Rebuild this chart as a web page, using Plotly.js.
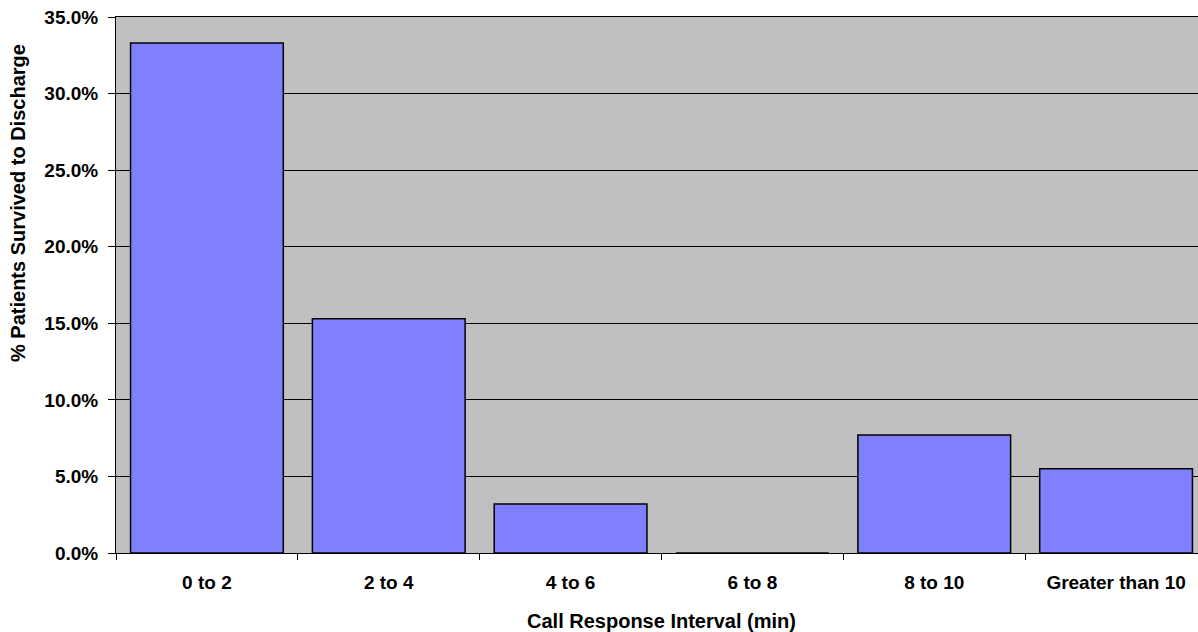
<!DOCTYPE html>
<html>
<head>
<meta charset="utf-8">
<script src="https://cdn.plot.ly/plotly-3.0.1.min.js"></script>
<style>
  html, body { margin: 0; padding: 0; background: #ffffff; overflow: hidden; }
  #chart { width: 1207px; height: 632px; }
</style>
</head>
<body>
<div id="chart"></div>
<script>
// Survival to discharge by call response interval
const categories = ["0 to 2", "2 to 4", "4 to 6", "6 to 8", "8 to 10", "Greater than 10"];
const survivedPct = [33.3, 15.3, 3.2, 0, 7.7, 5.5];
const yTickValues = [0, 5, 10, 15, 20, 25, 30, 35];

const font = "Liberation Sans, Arial, sans-serif";

const trace = {
  type: "bar",
  x: categories,
  y: survivedPct,
  marker: { color: "#8080ff", line: { color: "#000000", width: 1.5 } },
  hoverinfo: "skip"
};

const layout = {
  width: 1207,
  height: 632,
  margin: { l: 116, r: 0, t: 17, b: 79 },
  paper_bgcolor: "#ffffff",
  plot_bgcolor: "#c0c0c0",
  bargap: 0.16,
  showlegend: false,
  hovermode: false,
  font: { family: font, size: 19, color: "#000000" },
  xaxis: {
    type: "category",
    showline: true,
    linecolor: "#000000",
    linewidth: 1,
    mirror: true,
    ticks: "outside",
    tickson: "boundaries",
    ticklen: 6,
    tickcolor: "#000000",
    showgrid: false,
    ticklabelstandoff: 12,
    tickfont: { family: font, size: 19, color: "#000000", weight: "bold" },
    title: {
      text: "<b>Call Response Interval (min)</b>",
      font: { family: font, size: 20, color: "#000000" },
      standoff: 22
    }
  },
  yaxis: {
    range: [0, 35],
    tickvals: yTickValues,
    ticktext: yTickValues.map(v => v.toFixed(1) + "%"),
    showline: true,
    linecolor: "#000000",
    linewidth: 1,
    mirror: true,
    ticks: "outside",
    ticklen: 7,
    tickcolor: "#000000",
    showgrid: true,
    gridcolor: "#000000",
    gridwidth: 1,
    zeroline: false,
    ticklabelstandoff: 6,
    tickfont: { family: font, size: 19, color: "#000000", weight: "bold" }
  },
  annotations: [{
    text: "<b>% Patients Survived to Discharge</b>",
    textangle: -90,
    xref: "paper", yref: "paper",
    x: -116 / 1091 + 18 / 1091, xanchor: "center",
    y: (632 - 79 - 203) / 536, yanchor: "middle",
    showarrow: false,
    font: { family: font, size: 20, color: "#000000" }
  }]
};

Plotly.newPlot("chart", [trace], layout, { displayModeBar: false, staticPlot: true });
</script>
</body>
</html>
